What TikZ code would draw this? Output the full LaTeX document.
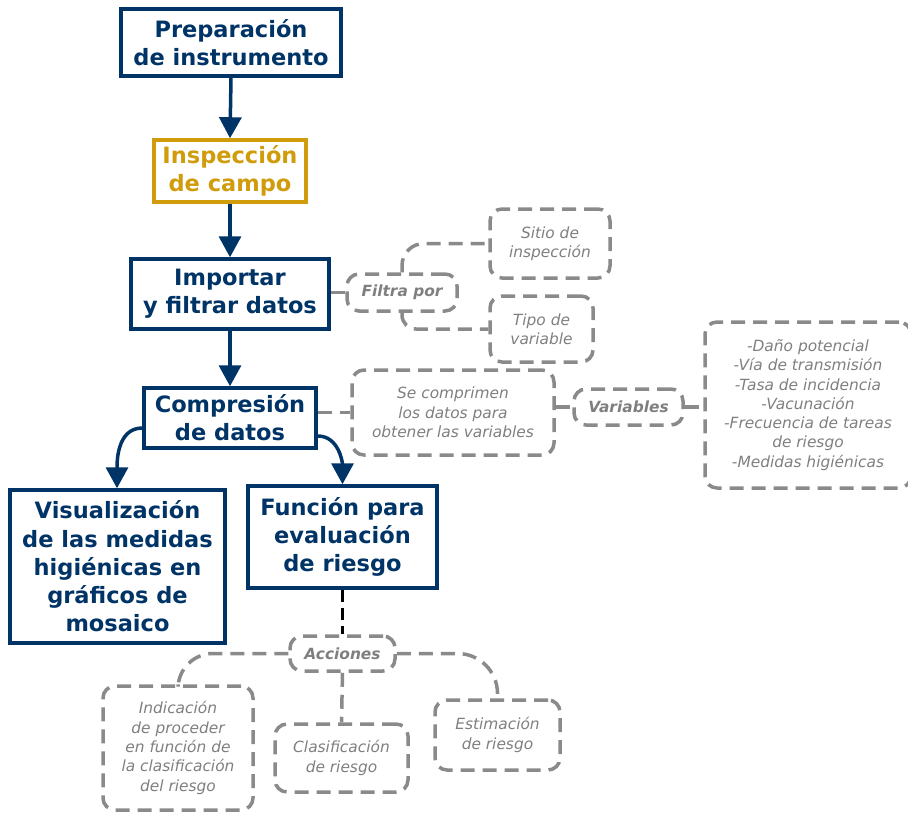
\documentclass[tikz,border=0pt]{standalone}
\usepackage{fontspec}
\setmainfont{DejaVu Sans}
\usetikzlibrary{arrows.meta}
\definecolor{navy}{HTML}{003366}
\definecolor{gold}{HTML}{D09C0C}
\definecolor{dgray}{HTML}{8A8A8A}
\definecolor{tgray}{HTML}{7F7F7F}
\tikzset{
  mainbox/.style={draw=navy, line width=3.5pt, text=navy, font=\fontsize{22.5}{28.2}\selectfont\bfseries, align=center, inner sep=0pt},
  goldbox/.style={mainbox, draw=gold, text=gold},
  dbox/.style={draw=dgray, line width=3.5pt, dash pattern=on 14pt off 8pt, rounded corners=12pt, text=tgray, font=\fontsize{15.4}{19.3}\selectfont\itshape, align=center, inner sep=0pt},
  lbox/.style={dbox, font=\fontsize{15.4}{19.3}\selectfont\bfseries\itshape},
  dline/.style={draw=dgray, line width=3.5pt, dash pattern=on 14pt off 8pt},
  narrow/.style={draw=navy, line width=3.5pt, -{Triangle[width=22pt,length=21pt]}},
}
\begin{document}
\begin{tikzpicture}[x=1pt,y=-1pt]
\useasboundingbox (0,0) rectangle (908,812);
% main flow
\node[mainbox, minimum width=220pt, minimum height=67pt] (prep) at (231,42.5) {Preparación\\de instrumento};
\node[goldbox, minimum width=152pt, minimum height=62pt] (insp) at (230,171) {Inspección\\de campo};
\node[mainbox, minimum width=198pt, minimum height=70pt] (imp) at (230,294) {Importar\\y filtrar datos};
\node[mainbox, minimum width=172pt, minimum height=60pt] (comp) at (230,418) {Compresión\\de datos};
\node[mainbox, minimum width=215pt, minimum height=153pt] (vis) at (117.5,566.5) {Visualización\\de las medidas\\higiénicas en\\gráficos de\\mosaico};
\node[mainbox, minimum width=189pt, minimum height=102pt] (fun) at (342.5,537) {Función para\\evaluación\\de riesgo};
% side boxes
\node[lbox, minimum width=110pt, minimum height=37pt] (fil) at (402,292.5) {Filtra por};
\node[dbox, minimum width=120pt, minimum height=69pt] (sit) at (550,243.5) {Sitio de\\inspección};
\node[dbox, minimum width=103pt, minimum height=66pt] (tip) at (541.5,329) {Tipo de\\variable};
\node[dbox, minimum width=202pt, minimum height=85pt] (sec) at (453,412.5) {Se comprimen\\los datos para\\obtener las variables};
\node[lbox, minimum width=109pt, minimum height=36pt] (var) at (628.5,407) {Variables};
\node[dbox, minimum width=206pt, minimum height=166pt] (lst) at (808,405) {-Daño potencial\\-Vía de transmisión\\-Tasa de incidencia\\-Vacunación\\-Frecuencia de tareas\\de riesgo\\-Medidas higiénicas};
\node[lbox, minimum width=105pt, minimum height=35pt] (acc) at (342.5,653.5) {Acciones};
\node[dbox, minimum width=150pt, minimum height=124pt] (ind) at (178,748) {Indicación\\de proceder\\en función de\\la clasificación\\del riesgo};
\node[dbox, minimum width=133pt, minimum height=68pt] (cla) at (341.5,758) {Clasificación\\de riesgo};
\node[dbox, minimum width=125pt, minimum height=70pt] (est) at (497.5,735) {Estimación\\de riesgo};
% arrows
\draw[narrow] (prep.south) -- (insp.north);
\draw[narrow] (insp.south) -- (imp.north);
\draw[narrow] (imp.south) -- (comp.north);
\draw[narrow] (comp.west |- 0,428) to[out=180,in=90] (vis.north -| 117,0);
\draw[narrow] (comp.east |- 0,436) to[out=0,in=90] (fun.north);
% dashed connectors
\draw[dline] (imp.east |- fil.west) -- (fil.west);
\draw[dline, rounded corners=22pt] (fil.north) |- (sit.west);
\draw[dline, rounded corners=14pt] (fil.south) |- (tip.west);
\draw[dline] (comp.east |- sec.west) -- (sec.west);
\draw[dline] (sec.east |- var.west) -- (var.west);
\draw[dline] (var.east) -- (lst.west |- var.east);
\draw[draw=black, line width=3pt, dash pattern=on 12pt off 6pt] (fun.south) -- (acc.north);
\draw[dline, rounded corners=35pt] (acc.west) -| (ind.north);
\draw[dline] (acc.south) -- (cla.north);
\draw[dline, rounded corners=40pt] (acc.east) -| (est.north);
\end{tikzpicture}
\end{document}
